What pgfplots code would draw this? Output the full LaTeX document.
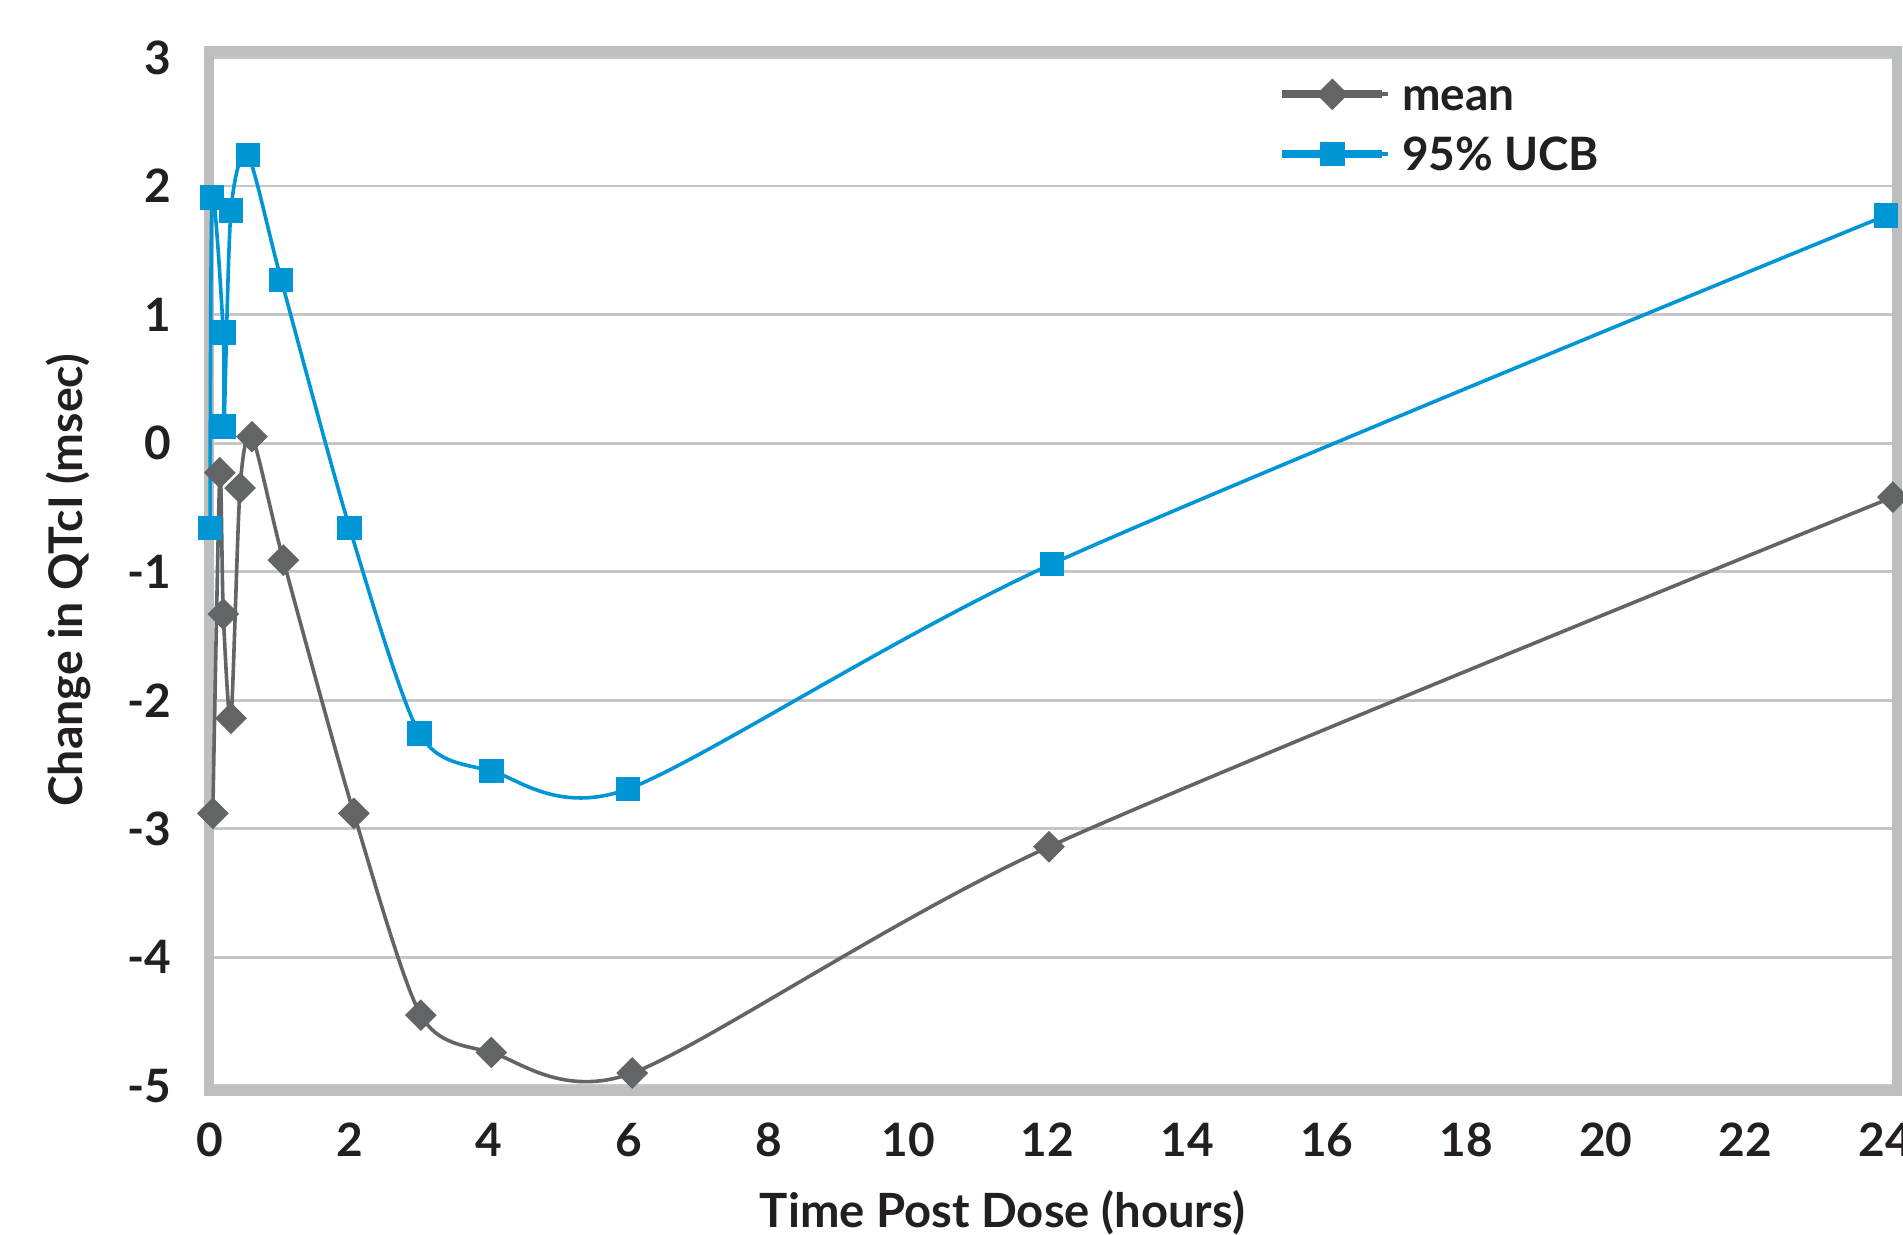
\documentclass[border=0pt]{standalone}
\usepackage{pgfplots}
\pgfplotsset{compat=1.18}
\usepackage{fontspec}
\setmainfont{Lato}
\definecolor{ucb}{RGB}{0,150,214}
\definecolor{meang}{RGB}{99,100,102}
\definecolor{framec}{RGB}{188,190,192}
\definecolor{gridc}{RGB}{197,198,200}
\definecolor{txt}{RGB}{35,31,32}
\begin{document}
\begin{tikzpicture}
\begin{axis}[
 name=ax,
 scale only axis,
 width=422pt, height=260pt,
 xmin=-0.015, xmax=24.17,
 ymin=-5.04, ymax=3.05,
 xtick={0,2,...,24},
 xticklabels={0,2,4,6,8,10,12,14,16,18,20,22,24},
 ytick={-5,-4,-3,-2,-1,0,1,2,3},
 yticklabels={-5,-4,-3,-2,-1,0,1,2,3},
 ymajorgrids,
 major grid style={draw=gridc, line width=0.7pt},
 major tick length=0pt,
 axis line style={draw=framec, line width=2.6pt},
 tick label style={font=\fontsize{11.5}{13}\selectfont\bfseries, text=txt},
 xticklabel shift=4.5pt,
 yticklabel shift=6pt,
 xlabel={Time Post Dose (hours)},
 ylabel={Change in QTcI (msec)},
 xlabel style={at={(axis description cs:0.470,-0.1173)}, anchor=center, font=\fontsize{11.8}{13}\selectfont\bfseries, text=txt},
 ylabel style={at={(axis description cs:-0.083,0.491)}, anchor=center, font=\fontsize{11.6}{13}\selectfont\bfseries, text=txt},
 clip=false,
 legend style={at={(axis description cs:0.633,0.988)}, anchor=north west, draw=none, fill=none, inner sep=0pt,
   font=\fontsize{11.5}{13}\selectfont\bfseries, text=txt, row sep=0pt,
   nodes={inner sep=3pt, text height=8.5pt, text depth=0.5pt}},
 legend cell align=left,
 legend image code/.code={\path (0pt,0pt) -- (26.5pt,0pt);\draw[mark repeat=2,mark phase=2,line width=2pt] plot coordinates {(0pt,0pt) (12.5pt,0pt) (25pt,0pt)};},
]
\addplot[color=meang, line width=0.9pt, smooth, tension=0.45,
  mark=square*, mark size=2.65pt, mark options={rotate=45, solid, line width=0.3pt, fill=meang}]
  coordinates {
  (0.04,-2.88) (0.14,-0.23) (0.19,-1.33) (0.30,-2.14) (0.43,-0.35) (0.60,0.05)
  (1.05,-0.91) (2.06,-2.88) (3.02,-4.45) (4.03,-4.74) (6.05,-4.90) (12.02,-3.14) (24.11,-0.42)
  };
\addlegendentry{mean}
\addplot[color=ucb, line width=0.9pt, smooth, tension=0.45,
  mark=square*, mark size=2.9pt, mark options={solid, line width=0.3pt, fill=ucb}]
  coordinates {
  (0.00,-0.66) (0.03,1.91) (0.19,0.86) (0.20,0.13) (0.30,1.81) (0.54,2.24)
  (1.02,1.27) (2.00,-0.66) (3.00,-2.26) (4.03,-2.55) (5.99,-2.69) (12.06,-0.94) (24.01,1.77)
  };
\addlegendentry{95\% UCB}
\end{axis}
\pgfresetboundingbox
\path (ax.south west) ++(-52.25pt,-35.75pt) rectangle ++(475.75pt,308.5pt);
\end{tikzpicture}
\end{document}
